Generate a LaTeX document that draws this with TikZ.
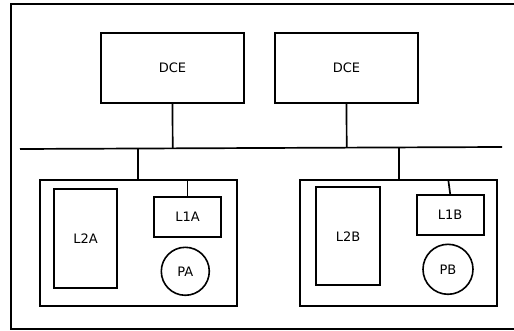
\documentclass[tikz,border=0pt]{standalone}
\usepackage{fontspec}
\setmainfont{DejaVu Sans}
\begin{document}
\begin{tikzpicture}[x=1pt,y=-1pt,
  box/.style={draw,line width=1.7pt,inner sep=0pt,font=\fontsize{13}{15}\selectfont},
  circ/.style={draw,circle,line width=1.6pt,inner sep=0pt,font=\fontsize{13}{15}\selectfont},
  wire/.style={line width=1.7pt}]
\useasboundingbox (0,0) rectangle (514,331);
\fill[white] (0,0) rectangle (514,331);
\begin{scope}
\clip (0,0) rectangle (514,331);
\draw[line width=2pt] (11,4) rectangle (530,329);
\end{scope}
% DCE boxes
\node[box,minimum width=143pt,minimum height=70pt] (dce1) at (172.5,68) {DCE};
\node[box,minimum width=143pt,minimum height=70pt] (dce2) at (346.5,68) {DCE};
% bus
\coordinate (busL) at (20,149);
\coordinate (busR) at (502,147);
\draw[wire] (busL) -- (busR);
\coordinate (t1) at (172.7,148.2);
\coordinate (t2) at (346.7,147.7);
\coordinate (t3) at (138.3,148.4);
\coordinate (t4) at (399,147.8);
\draw[wire] (dce1.south) -- (t1);
\draw[wire] (dce2.south) -- (t2);
% Station A
\node[box,minimum width=197.6pt,minimum height=126.3pt] (A) at (138.5,242.85) {};
\node[box,minimum width=63.6pt,minimum height=99pt] (L2A) at (85.5,238.5) {L2A};
\node[box,minimum width=67pt,minimum height=40.3pt] (L1A) at (187.5,217.15) {L1A};
\node[circ,minimum size=48pt] (PA) at (185.3,271.3) {PA};
\draw[wire] (t3) -- (t3 |- A.north);
\draw[wire] (L1A.north) -- (L1A.north |- A.north);
% Station B
\node[box,minimum width=197.3pt,minimum height=126.3pt] (B) at (398.65,242.85) {};
\node[box,minimum width=63.4pt,minimum height=98pt] (L2B) at (348,236.3) {L2B};
\node[box,minimum width=67pt,minimum height=40.3pt] (L1B) at (450.2,215.15) {L1B};
\node[circ,minimum size=50pt] (PB) at (448,269.3) {PB};
\coordinate (l1btop) at (448.3,180);
\draw[wire] (t4) -- (t4 |- B.north);
\draw[wire] (l1btop) -- (L1B.north);
\end{tikzpicture}
\end{document}
